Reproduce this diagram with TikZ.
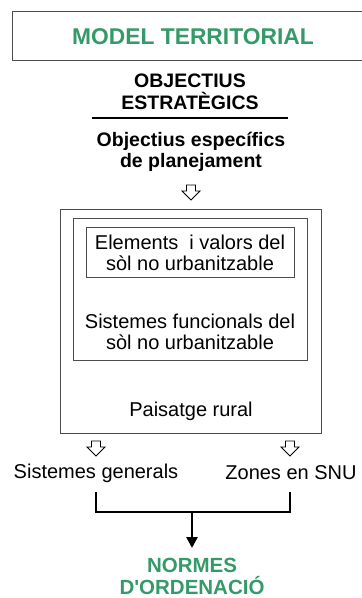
\documentclass[tikz,border=0pt]{standalone}
\usepackage{fontspec}
\setmainfont{Liberation Sans}
\usetikzlibrary{arrows.meta}

\definecolor{modelgreen}{RGB}{52,154,104}

\tikzset{
	boldtxt/.style = {font=\bfseries\fontsize{19.5}{21.5}\selectfont, align=center, inner sep=0pt},
	plaintxt/.style = {font=\fontsize{20}{21}\selectfont, align=center, inner sep=0pt},
	greentxt/.style = {boldtxt, text=modelgreen},
	frame/.style = {draw=black!70, line width=0.9pt},
	bracket/.style = {line width=2.6pt},
	hollow/.pic = {
		\draw[line width=0.8pt, fill=white] (-4.5,0) -- (4.5,0) -- (4.5,6) -- (9,6) -- (0,15) -- (-9,6) -- (-4.5,6) -- cycle;
	}
}

\begin{document}
\begin{tikzpicture}[x=1pt,y=-1pt]
	\useasboundingbox (0,0) rectangle (362,598);

	% top
	\draw[frame] (12,11) rectangle (380,60);
	\node[greentxt, font=\bfseries\fontsize{22.8}{24}\selectfont] (model) at (193,37) {MODEL TERRITORIAL};

	\node[boldtxt] (estrat) at (190,92) {OBJECTIUS\\ESTRATÈGICS};
	\draw[line width=2.6pt] (92,118) -- (288,118);
	\node[boldtxt] (especif) at (191,152) {Objectius específics\\de planejament};
	\pic at (191,185) {hollow};

	% boxes
	\draw[frame] (60,209) rectangle (321,433);
	\draw[frame] (73,218) rectangle (307,360);
	\draw[frame] (86,227) rectangle (294,277);

	\node[plaintxt] (elements) at (190,253) {Elements\ \ i valors del\\sòl no urbanitzable};
	\node[plaintxt] (funcionals) at (190,332) {Sistemes funcionals del\\sòl no urbanitzable};
	\node[plaintxt] (paisatge) at (191,411) {Paisatge rural};

	\pic at (96,441) {hollow};
	\pic at (290,441) {hollow};

	\node[plaintxt] (generals) at (96,473) {Sistemes generals};
	\node[plaintxt] (snu) at (291,473) {Zones en SNU};

	% bracket
	\coordinate (join) at (192,512);
	\draw[bracket] (96,492) |- (join) -| (290,492);
	\node[greentxt, font=\bfseries\fontsize{20.5}{21.5}\selectfont] (normes) at (192,576.5) {NORMES\\D\textquotesingle ORDENACIÓ};
	\draw[bracket, -{Triangle[width=11pt,length=11pt]}] (join) -- (192,548);

\end{tikzpicture}
\end{document}
